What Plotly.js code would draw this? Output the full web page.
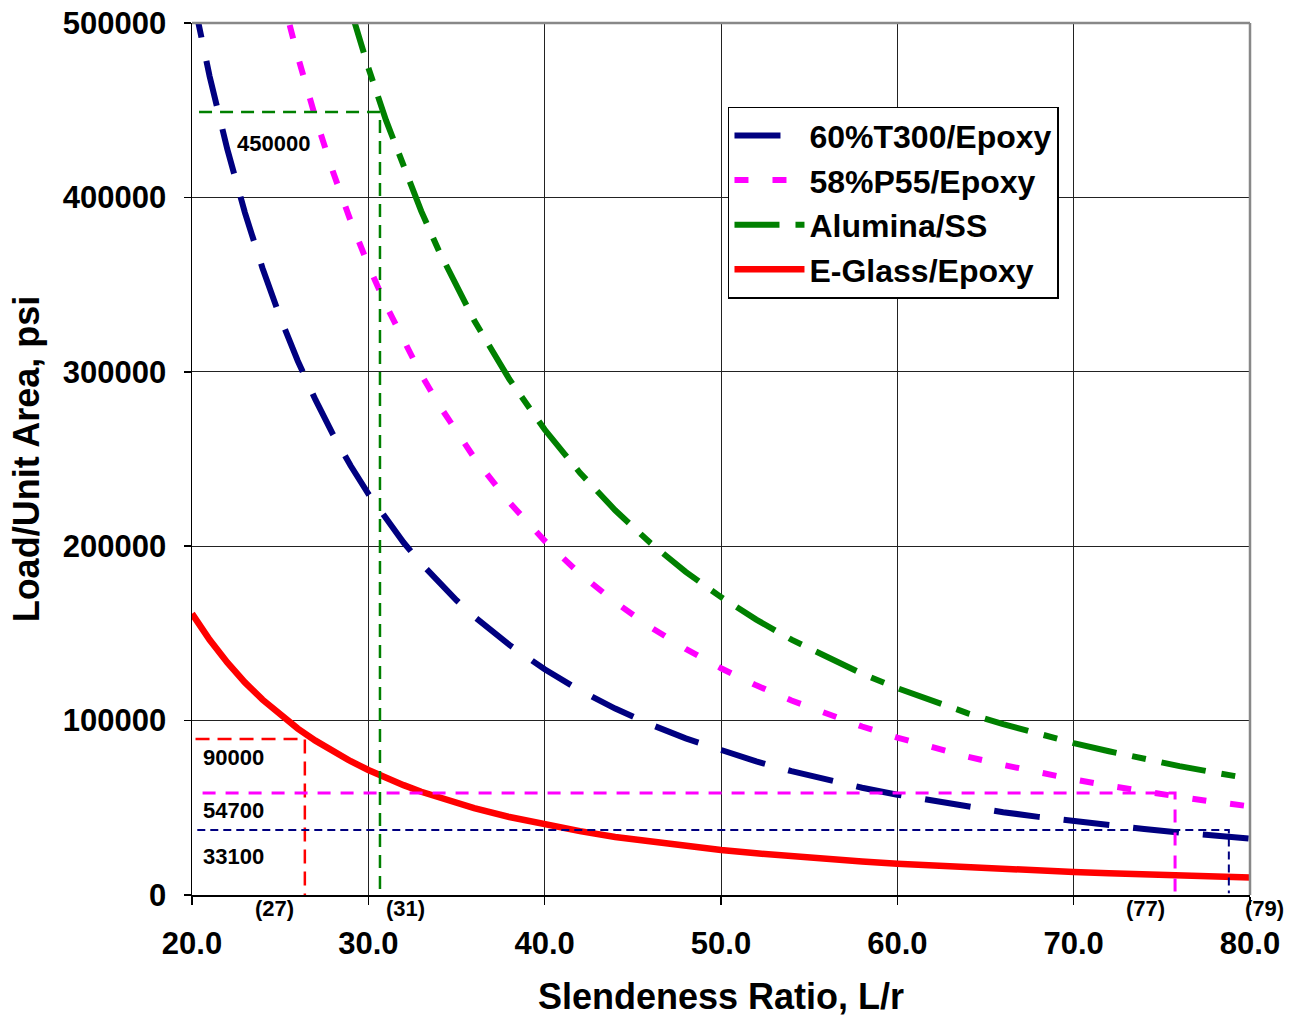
<!DOCTYPE html>
<html>
<head>
<meta charset="utf-8">
<script src="https://cdn.plot.ly/plotly-3.0.1.min.js"></script>
<style>html,body{margin:0;padding:0;background:#fff;}#chart{width:1302px;height:1021px;}</style>
</head>
<body>
<div id="chart"></div>
<script>
// Slenderness ratio values (x) for each curve
const xT300 = [20,21,22,23,24,25,26,27,28,29,30,31,32,33,34,35,36,38,40,42,44,46,48,50,52,54,56,58,60,62,64,66,68,70,72,74,76,78,80];
const yT300 = [517500,469400,427700,391300,359400,331200,306200,284000,264000,246100,230000,215400,202100,190100,179100,169000,159700,143400,129400,117300,106900,97800,89800,82800,76600,71000,66000,61500,57500,53900,50500,47500,44800,42200,39900,37800,35800,34000,32300];

const xP55 = [25,26,27,28,29,30,31,32,33,34,35,36,38,40,42,44,46,48,50,52,54,56,58,60,62,64,66,68,70,72,74,76,78,80];
const yP55 = [520000,480800,445800,414500,386400,361100,338200,317400,298400,281100,265300,250800,225100,203100,184200,167900,153600,141100,130000,120200,111500,103600,96600,90300,84500,79300,74600,70300,66300,62700,59300,56300,53400,50800];

const xAlumina = [29,30,31,32,33,34,35,36,38,40,42,44,46,48,50,52,54,56,58,60,62,64,66,68,70,72,74,76,78,80];
const yAlumina = [507700,474400,444300,417000,392100,369400,348600,329500,295700,266900,242100,220600,201800,185300,170800,157900,146400,136200,126900,118600,111100,104200,98000,92300,87100,82400,78000,73900,70200,66700];

const xEGlass = [20,21,22,23,24,25,26,27,28,29,30,31,32,33,34,35,36,38,40,42,44,46,48,50,52,54,56,58,60,62,64,66,68,70,72,74,76,78,80];
const yEGlass = [161300,146300,133300,121900,112000,103200,95400,88500,82300,76700,71700,67100,63000,59200,55800,52700,49800,44700,40300,36600,33300,30500,28000,25800,23900,22100,20600,19200,17900,16800,15700,14800,13900,13200,12400,11800,11200,10600,10100];

const seriesNames = ["60%T300/Epoxy","58%P55/Epoxy","Alumina/SS","E-Glass/Epoxy"];

// Read-off guide lines (dashed), as drawn in the picture
const guideGreenX = [20.4, 30.66, 30.66];
const guideGreenY = [449000, 449000, -8000];
const guideRedX = [20.2, 26.4, 26.4];
const guideRedY = [89500, 89500, -6000];
const guidePinkX = [20.6, 75.75, 75.75];
const guidePinkY = [58500, 58500, -5000];
const guideNavyX = [20.3, 78.8, 78.8];
const guideNavyY = [37300, 37300, 1000];

// Value labels
const labelText = ["450000","90000","54700","33100"];
const labelX = [22.45, 20.5, 20.5, 20.5];
const labelY = [431000, 79000, 48200, 21800];
const ratioText = ["(27)","(31)","(77)","(79)"];
const ratioX = [24.7, 32.1, 74.05, 80.85];

const xTicks = [20,30,40,50,60,70,80];
const yTicks = [0,100000,200000,300000,400000,500000];

const X_MIN = 20, X_MAX = 80;
const FONT = "Liberation Sans, Arial, Helvetica, sans-serif";

const traces = [
  {x:xT300, y:yT300, name:seriesNames[0], mode:"lines", legendgroup:"a",
   line:{color:"#000080", width:6, dash:"46px,24px"}},
  {x:xP55, y:yP55, name:seriesNames[1], mode:"lines", legendgroup:"b",
   line:{color:"#FF00FF", width:6, dash:"14px,24px"}},
  {x:xAlumina, y:yAlumina, name:seriesNames[2], mode:"lines", legendgroup:"c",
   line:{color:"#008000", width:6, dash:"45px,16px,14px,16px"}},
  {x:xEGlass, y:yEGlass, name:seriesNames[3], mode:"lines", legendgroup:"d",
   line:{color:"#FF0000", width:6.5}},
  {x:guideGreenX, y:guideGreenY, mode:"lines", showlegend:false, hoverinfo:"skip",
   line:{color:"#008000", width:2.5, dash:"13px,8px"}},
  {x:guideRedX, y:guideRedY, mode:"lines", showlegend:false, hoverinfo:"skip",
   line:{color:"#FF0000", width:2.5, dash:"14px,8px"}},
  {x:guidePinkX, y:guidePinkY, mode:"lines", showlegend:false, hoverinfo:"skip",
   line:{color:"#FF00FF", width:3, dash:"13px,10px"}},
  {x:guideNavyX, y:guideNavyY, mode:"lines", showlegend:false, hoverinfo:"skip",
   line:{color:"#000080", width:2, dash:"8px,5px"}}
];

const annotations = [];
for (let i = 0; i < labelText.length; i++) {
  annotations.push({x:labelX[i], y:labelY[i], xref:"x", yref:"y", text:labelText[i],
    showarrow:false, xanchor:"left", yanchor:"middle",
    font:{family:FONT, size:22, color:"#000", weight:"bold"}});
}
for (let i = 0; i < ratioText.length; i++) {
  annotations.push({x:(ratioX[i] - X_MIN) / (X_MAX - X_MIN), y:0, xref:"paper", yref:"paper", text:ratioText[i],
    showarrow:false, xanchor:"center", yanchor:"middle", yshift:-13,
    font:{family:FONT, size:22, color:"#000", weight:"bold"}});
}

const layout = {
  width:1302, height:1021,
  paper_bgcolor:"#fff", plot_bgcolor:"#fff",
  margin:{l:192, r:52, t:23, b:126},
  font:{family:FONT, color:"#000"},
  showlegend:true,
  legend:{x:0.5066, y:0.904, xanchor:"left", yanchor:"top",
    bgcolor:"#fff", bordercolor:"#000", borderwidth:1.5,
    font:{family:FONT, size:32, color:"#000", weight:"bold"},
    traceorder:"grouped", tracegroupgap:0, itemwidth:70},
  xaxis:{range:[X_MIN,X_MAX], tickvals:xTicks, tickformat:".1f",
    showgrid:true, gridcolor:"#222", gridwidth:1,
    showline:true, linecolor:"#000", linewidth:1.5, mirror:false,
    ticks:"outside", ticklen:8, tickcolor:"#000", tickwidth:1.5,
    ticklabelstandoff:12,
    tickfont:{family:FONT, size:31, color:"#000", weight:"bold"},
    zeroline:false,
    title:{text:"Slendeness Ratio, L/r", standoff:24,
      font:{family:FONT, size:36, color:"#000", weight:"bold"}}},
  yaxis:{range:[0,500000], tickvals:yTicks, tickformat:"d",
    showgrid:true, gridcolor:"#222", gridwidth:1,
    showline:true, linecolor:"#000", linewidth:1.5, mirror:false,
    ticks:"outside", ticklen:7, tickcolor:"#000", tickwidth:1.5,
    ticklabelstandoff:11,
    tickfont:{family:FONT, size:31, color:"#000", weight:"bold"},
    zeroline:false,
    title:{text:"Load/Unit Area, psi", standoff:12,
      font:{family:FONT, size:36, color:"#000", weight:"bold"}}},
  shapes:[
    {type:"line", xref:"paper", yref:"paper", x0:0, x1:1, y0:1, y1:1, line:{color:"#888", width:2.5}},
    {type:"line", xref:"paper", yref:"paper", x0:1, x1:1, y0:0, y1:1, line:{color:"#888", width:2.5}}
  ],
  annotations:annotations
};

Plotly.newPlot("chart", traces, layout, {staticPlot:true, displayModeBar:false});
</script>
</body>
</html>
